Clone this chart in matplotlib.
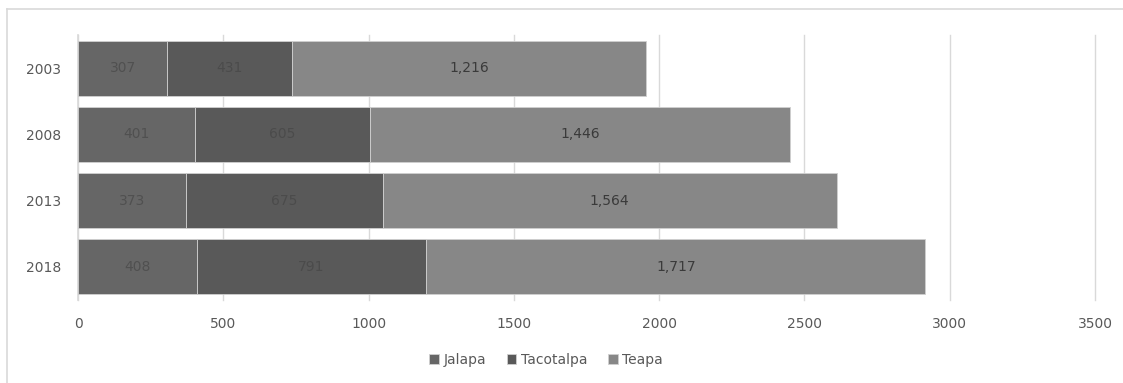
import matplotlib.pyplot as plt
import numpy as np
from matplotlib.lines import Line2D

years = ['2003', '2008', '2013', '2018']
jalapa = [307, 401, 373, 408]
tacotalpa = [431, 605, 675, 791]
teapa = [1216, 1446, 1564, 1717]

series = [('Jalapa', jalapa, '#666666', '#505050'),
          ('Tacotalpa', tacotalpa, '#595959', '#4b4b4b'),
          ('Teapa', teapa, '#878787', '#3a3a3a')]

plt.rcParams['font.family'] = ['DejaVu Sans']

fig = plt.figure(figsize=(11.23, 3.83), dpi=100)
ax = fig.add_axes([78 / 1123, 1 - 300 / 383, (1095 - 78) / 1123, 265 / 383])

y = np.arange(len(years))
left = np.zeros(len(years))
for name, vals, col, tcol in series:
    bars = ax.barh(y, vals, left=left, height=0.83, color=col, edgecolor='#d0d0d0',
                   linewidth=0.6, label=name, zorder=3)
    ax.bar_label(bars, labels=[f'{v:,}' for v in vals], label_type='center',
                 color=tcol, fontsize=10)
    left += np.array(vals)

ax.set_xlim(0, 3500)
ax.set_ylim(3.5, -0.5)
ax.set_xticks(np.arange(0, 3501, 500))
ax.set_yticks(y, years)
ax.tick_params(length=0, labelsize=10, labelcolor='#595959')
ax.tick_params(axis='x', pad=12)
ax.tick_params(axis='y', pad=12)
ax.grid(axis='x', color='#d9d9d9', linewidth=1, zorder=0)
for gl in ax.get_xgridlines():
    gl.set_clip_on(False)
for s in ['top', 'right', 'bottom']:
    ax.spines[s].set_visible(False)
ax.spines['left'].set_color('#d9d9d9')
ax.spines['left'].set_linewidth(1.2)

fig.legend(loc='center', bbox_to_anchor=(546 / 1123, 1 - 360 / 383), ncol=3,
           frameon=False, fontsize=10, handlelength=0.7, handleheight=0.7,
           handletextpad=0.3, columnspacing=1.5, labelcolor='#595959')

# outer chart border (partially cropped)
fig.add_artist(Line2D([7 / 1123, 1], [1 - 9 / 383, 1 - 9 / 383], color='#d9d9d9', lw=1.2))
fig.add_artist(Line2D([7 / 1123, 7 / 1123], [0, 1 - 9 / 383], color='#d9d9d9', lw=1.2))

fig.savefig('out.png', dpi=100)
